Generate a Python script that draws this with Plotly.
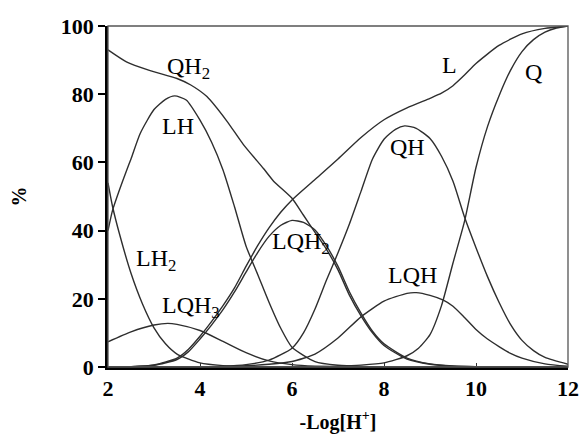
import plotly.graph_objects as go

# ---- data ----
QH2_x = [2.0, 2.4, 2.9, 3.5, 3.8, 4.15, 4.58, 4.94, 5.38, 5.6, 6.0, 6.25, 6.5, 6.75, 7.0, 7.25, 7.5, 7.75, 8.0, 8.5, 9.0, 9.5, 10.0, 10.5, 11.0, 11.5, 12.0]
QH2_y = [93, 89.5, 87, 84.6, 82.7, 79.3, 72.2, 65.3, 58.2, 54.5, 49.5, 44.5, 39.5, 34.5, 28.5, 21, 15, 10, 6.3, 2.3, 0.8, 0.25, 0.1, 0.05, 0, 0, 0]

LH_x = [2.0, 2.1, 2.25, 2.4, 2.5, 2.7, 3.0, 3.25, 3.45, 3.7, 4.0, 4.25, 4.5, 4.75, 5.0, 5.25, 5.5, 5.75, 6.0, 6.5, 7.0, 7.5, 8.0, 8.5, 9.0, 10.0, 11.0, 12.0]
LH_y = [40, 46, 52, 57.5, 61, 68.5, 75.5, 78.5, 79.5, 78.3, 72.4, 66, 57.8, 47, 35.5, 27.3, 19, 11.5, 5.8, 1.6, 0.5, 0.15, 0.05, 0, 0, 0, 0, 0]

LH2_x = [2.0, 2.1, 2.25, 2.5, 2.75, 3.0, 3.25, 3.5, 4.0, 4.5, 5.0, 5.5, 6.0, 7.0, 8.0, 9.0, 10.0, 11.0, 12.0]
LH2_y = [54, 47, 39, 27.5, 18.5, 11.5, 6.8, 3.8, 1.2, 0.4, 0.15, 0.05, 0, 0, 0, 0, 0, 0, 0]

LQH3_x = [2.0, 2.5, 3.0, 3.3, 3.5, 4.0, 4.5, 5.0, 5.5, 6.0, 6.5, 7.0, 7.5, 8.0, 9.0, 10.0, 11.0, 12.0]
LQH3_y = [7.4, 10.3, 12.3, 12.8, 12.5, 10.7, 7.5, 4.2, 1.8, 0.7, 0.25, 0.1, 0.05, 0, 0, 0, 0, 0]

LQH2_x = [2.0, 2.5, 3.0, 3.5, 3.75, 4.0, 4.25, 4.5, 4.75, 5.0, 5.25, 5.5, 5.75, 6.0, 6.25, 6.5, 6.75, 7.0, 7.25, 7.5, 7.75, 8.0, 8.5, 9.0, 9.5, 10.0, 10.5, 11.0, 11.5, 12.0]
LQH2_y = [0, 0.1, 0.5, 2.2, 4.5, 8.2, 12.3, 16.8, 22, 27.8, 33.5, 38.3, 41.5, 43, 42.4, 40.2, 35.5, 29.5, 22, 15.8, 10.5, 6.8, 2.6, 0.9, 0.3, 0.1, 0.05, 0, 0, 0]

L_x = [2.0, 2.5, 3.0, 3.5, 3.75, 4.0, 4.25, 4.5, 4.75, 5.0, 5.25, 5.5, 5.75, 6.0, 6.5, 7.0, 7.5, 8.0, 8.5, 9.0, 9.25, 9.5, 9.75, 10.0, 10.5, 11.0, 11.5, 12.0]
L_y = [0, 0.1, 0.6, 2.6, 5.2, 9, 13.3, 18, 23.2, 29.5, 35.5, 40.8, 45.3, 49, 55, 61, 67.3, 72.5, 76, 78.8, 80.3, 82.5, 85.6, 89, 94.3, 97.7, 99.3, 100]

QH_x = [2.0, 3.0, 4.0, 4.5, 5.0, 5.5, 6.0, 6.25, 6.5, 6.75, 7.0, 7.25, 7.5, 7.75, 8.0, 8.25, 8.45, 8.7, 9.0, 9.25, 9.5, 9.75, 10.0, 10.25, 10.5, 10.75, 11.0, 11.25, 11.5, 12.0]
QH_y = [0, 0, 0.1, 0.25, 0.7, 2.0, 5.5, 10, 17, 25.5, 33.5, 42, 51.5, 61, 66.8, 69.7, 70.7, 70, 67, 61.8, 54.5, 44, 35, 26.5, 19, 12.5, 7.8, 4.8, 2.8, 0.8]

LQH_x = [2.0, 3.0, 4.0, 4.5, 5.0, 5.5, 6.0, 6.5, 7.0, 7.5, 8.0, 8.5, 8.7, 9.0, 9.29, 9.5, 9.75, 10.0, 10.25, 10.5, 10.75, 11.0, 11.5, 12.0]
LQH_y = [0, 0, 0.05, 0.15, 0.35, 0.8, 1.6, 3.8, 8.5, 14.7, 19.3, 21.6, 21.8, 21, 19.6, 17.8, 14.5, 11, 8.2, 6, 4, 2.6, 0.9, 0.2]

Q_x = [2.0, 3.0, 4.0, 5.0, 6.0, 6.5, 7.0, 7.5, 8.0, 8.5, 8.75, 9.0, 9.25, 9.5, 9.75, 10.0, 10.25, 10.5, 10.75, 11.0, 11.25, 11.5, 11.75, 12.0]
Q_y = [0, 0, 0, 0, 0.05, 0.1, 0.25, 0.55, 1.2, 3.3, 5.5, 9.5, 18, 30.5, 42.7, 58.5, 70.5, 79.5, 87, 92.5, 96, 98.2, 99.4, 100]

series = [
    ("QH2", QH2_x, QH2_y), ("LH", LH_x, LH_y), ("LH2", LH2_x, LH2_y),
    ("LQH3", LQH3_x, LQH3_y), ("LQH2", LQH2_x, LQH2_y), ("L", L_x, L_y),
    ("QH", QH_x, QH_y), ("LQH", LQH_x, LQH_y), ("Q", Q_x, Q_y),
]

label_text = ["QH<sub>2</sub>", "LH", "LH<sub>2</sub>", "LQH<sub>3</sub>", "LQH<sub>2</sub>",
              "L", "QH", "LQH", "Q"]
label_x = [3.74, 3.52, 3.04, 3.8, 6.2, 9.43, 8.52, 8.61, 11.26]
label_y = [87.7, 70.7, 31.4, 17.6, 36.4, 88.6, 64.5, 27.0, 86.5]

x_ticks = [2, 4, 6, 8, 10, 12]
y_ticks = [0, 20, 40, 60, 80, 100]

SERIF = "Liberation Serif"

fig = go.Figure()
for name, xs, ys in series:
    fig.add_trace(go.Scatter(
        x=xs, y=ys, mode="lines", name=name,
        line=dict(color="#2e2e2e", width=1.4, shape="spline", smoothing=0.6),
        showlegend=False, hoverinfo="skip",
    ))

for t, lx, ly in zip(label_text, label_x, label_y):
    fig.add_annotation(x=lx, y=ly, text=t, showarrow=False,
                       font=dict(family=SERIF, size=24, color="black"))

# thin frame on top / right
fig.add_shape(type="rect", xref="paper", yref="paper", x0=0, x1=1, y0=0, y1=1,
              line=dict(color="#555555", width=1.3), layer="above")

# the page body has an 8px margin, so the figure is sized to fit the window
fig.update_layout(
    width=579, height=426,
    margin=dict(l=100, r=19, t=18, b=67),
    paper_bgcolor="white", plot_bgcolor="white",
    font=dict(family=SERIF, color="black"),
)
fig.update_xaxes(
    range=[2, 12], tickvals=x_ticks, ticks="inside", ticklen=4, tickwidth=1.2,
    tickcolor="#333", showline=True, linewidth=2.5, linecolor="black",
    showgrid=False, zeroline=False, automargin=False,
    tickfont=dict(family=SERIF, size=22, weight="bold"),
    title=dict(text="-Log[H<sup>+</sup>]", standoff=15,
               font=dict(family=SERIF, size=20, weight="bold")),
)
fig.update_yaxes(
    range=[0, 100], tickvals=y_ticks, ticks="outside", ticklen=7, tickwidth=1.5,
    tickcolor="black", showline=True, linewidth=2.5, linecolor="black",
    showgrid=False, zeroline=False, automargin=False,
    tickfont=dict(family=SERIF, size=22, weight="bold"),
    title=dict(text="%", standoff=32,
               font=dict(family=SERIF, size=20, weight="bold")),
)

fig.write_html("out.html")
